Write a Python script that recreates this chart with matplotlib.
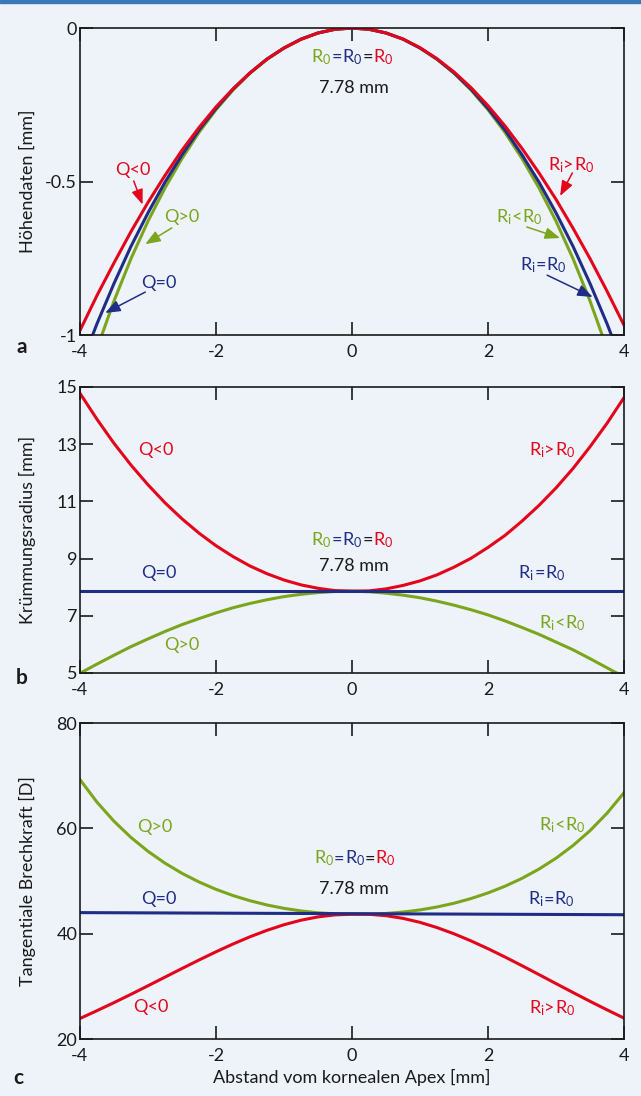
import matplotlib
matplotlib.use("Agg")
import matplotlib.pyplot as plt
from matplotlib.patches import Rectangle
from matplotlib.transforms import offset_copy

plt.rcParams['font.family'] = ['Lato', 'DejaVu Sans']
plt.rcParams['mathtext.fontset'] = 'custom'
plt.rcParams['mathtext.rm'] = 'Lato'
plt.rcParams['mathtext.it'] = 'Lato'
plt.rcParams['axes.unicode_minus'] = False

# colours of the three cornea types
RED = '#e3051b'
BLUE = '#1f2d86'
GREEN = '#7ba51c'
BG = '#eef3fa'
INK = '#1a1a1a'

# distance from the corneal apex [mm]
dist = [-4, -3.75, -3.5, -3.25, -3, -2.75, -2.5, -2.25, -2, -1.75, -1.5, -1.25, -1, -0.75, -0.5, -0.25, 0,
        0.25, 0.5, 0.75, 1, 1.25, 1.5, 1.75, 2, 2.25, 2.5, 2.75, 3, 3.25, 3.5, 3.75, 4]

# a) height data [mm]
hoehe_q0 = [-1.107, -0.963, -0.832, -0.711, -0.602, -0.502, -0.413, -0.332, -0.262, -0.199, -0.146,
            -0.101, -0.065, -0.036, -0.016, -0.004, 0,
            -0.004, -0.016, -0.036, -0.065, -0.101, -0.146, -0.199, -0.262, -0.332, -0.413,
            -0.502, -0.602, -0.711, -0.832, -0.963, -1.107]
hoehe_qneg = [-0.985, -0.871, -0.765, -0.663, -0.568, -0.480, -0.398, -0.324, -0.257, -0.198, -0.146,
              -0.101, -0.065, -0.037, -0.016, -0.004, 0,
              -0.004, -0.016, -0.036, -0.064, -0.100, -0.143, -0.194, -0.253, -0.319, -0.392,
              -0.472, -0.558, -0.652, -0.751, -0.857, -0.968]
hoehe_qpos = [-1.219, -1.044, -0.889, -0.751, -0.629, -0.521, -0.425, -0.340, -0.266, -0.202, -0.147,
              -0.102, -0.065, -0.036, -0.016, -0.004, 0,
              -0.004, -0.016, -0.036, -0.065, -0.102, -0.147, -0.202, -0.266, -0.340, -0.425,
              -0.521, -0.629, -0.751, -0.889, -1.044, -1.219]

# b) radius of curvature [mm]
radius_q0_x = [-4, 4]
radius_q0 = [7.87, 7.87]
radius_qneg = [14.78, 13.87, 13.03, 12.27, 11.58, 10.95, 10.39, 9.89, 9.45, 9.07, 8.74,
               8.47, 8.25, 8.08, 7.96, 7.88, 7.86,
               7.87, 7.94, 8.06, 8.22, 8.43, 8.70, 9.01, 9.39, 9.81, 10.31,
               10.86, 11.47, 12.15, 12.91, 13.73, 14.63]
radius_qpos = [4.99, 5.31, 5.62, 5.92, 6.19, 6.45, 6.69, 6.90, 7.10, 7.28, 7.43,
               7.56, 7.67, 7.75, 7.81, 7.85, 7.86,
               7.84, 7.79, 7.72, 7.63, 7.51, 7.37, 7.21, 7.03, 6.82, 6.59,
               6.35, 6.08, 5.81, 5.50, 5.18, 4.86]

# c) tangential power [D]
power_q0_x = [-4, 4]
power_q0 = [44.0, 43.6]
power_qneg = [23.90, 25.38, 26.91, 28.49, 30.11, 31.75, 33.39, 35.00, 36.56, 38.04, 39.41,
              40.64, 41.70, 42.56, 43.19, 43.57, 43.70,
              43.68, 43.42, 42.91, 42.15, 41.16, 39.98, 38.63, 37.15, 35.57, 33.92,
              32.23, 30.52, 28.83, 27.16, 25.54, 23.97]
power_qpos = [69.26, 64.97, 61.35, 58.27, 55.64, 53.39, 51.46, 49.82, 48.42, 47.24, 46.26,
              45.45, 44.81, 44.32, 43.97, 43.77, 43.70,
              43.71, 43.84, 44.11, 44.51, 45.07, 45.78, 46.67, 47.74, 49.01, 50.51,
              52.27, 54.33, 56.74, 59.56, 62.87, 66.77]

x_ticks = [-4, -2, 0, 2, 4]
x_ticklabels = ['-4', '-2', '0', '2', '4']

FS = 13

fig = plt.figure(figsize=(6.41, 10.96), dpi=100, facecolor=BG)
fig.patches.append(Rectangle((0, 1 - 2.5 / 1096), 1, 2.5 / 1096, transform=fig.transFigure,
                             color='#3b78b8', zorder=10))

ax_a = fig.add_axes([0.1248, 0.6943, 0.8487, 0.2801])
ax_b = fig.add_axes([0.1248, 0.3860, 0.8487, 0.2609])
ax_c = fig.add_axes([0.1248, 0.0520, 0.8487, 0.2883])


def style(ax, yticks, ylabels, ylabel):
    ax.set_facecolor(BG)
    ax.set_xlim(-4, 4)
    ax.set_ylim(yticks[0], yticks[-1])
    ax.set_xticks(x_ticks)
    ax.set_xticklabels(x_ticklabels)
    ax.set_yticks(yticks)
    ax.set_yticklabels(ylabels)
    ax.tick_params(direction='in', length=9.5, width=1.2, top=True, right=True,
                   labelsize=FS, color=INK, labelcolor=INK)
    ax.tick_params(axis='y', pad=2)
    ax.tick_params(axis='x', pad=6.5)
    for s in ax.spines.values():
        s.set_linewidth(1.2)
        s.set_color(INK)
    ax.set_ylabel(ylabel, fontsize=FS, color=INK, va='center')
    ax.yaxis.set_label_coords(-0.0956, 0.5)


def rtext(ax, x, y, parts, size=FS):
    # draw coloured pieces next to each other, centred on x
    renderer = fig.canvas.get_renderer()
    texts, widths = [], []
    for s, c in parts:
        t = ax.text(x, y, s, color=c, fontsize=size, ha='left', va='center')
        texts.append(t)
        widths.append(t.get_window_extent(renderer).width)
    off = -sum(widths) / 2
    for t, w in zip(texts, widths):
        t.set_transform(offset_copy(ax.transData, fig=fig, x=off, y=0, units='dots'))
        off += w


def arrow(ax, tail, tip, c):
    ax.annotate('', xy=tip, xytext=tail,
                arrowprops=dict(arrowstyle='-|>,head_length=0.7,head_width=0.27', color=c, lw=1.1,
                                mutation_scale=13, shrinkA=0, shrinkB=0))


R0 = 'R$_\\mathrm{0}$'
Ri = 'R$_\\mathrm{i}$'
center_parts = [(R0, GREEN), ('=', BLUE), (R0, BLUE), ('=', INK), (R0, RED)]

# --- panel a
ax = ax_a
ax.plot(dist, hoehe_qpos, color=GREEN, lw=2.2)
ax.plot(dist, hoehe_q0, color=BLUE, lw=2.2)
ax.plot(dist, hoehe_qneg, color=RED, lw=2.2)
style(ax, [-1, -0.5, 0], ['-1', '-0.5', '0'], 'Höhendaten [mm]')
rtext(ax, 0, -0.094, center_parts)
ax.text(0.03, -0.195, '7.78 mm', fontsize=FS, ha='center', va='center', color=INK)
ax.text(-3.22, -0.463, 'Q<0', color=RED, fontsize=FS, ha='center', va='center')
arrow(ax, (-3.21, -0.498), (-3.08, -0.575), RED)
ax.text(-2.51, -0.616, 'Q>0', color=GREEN, fontsize=FS, ha='center', va='center')
arrow(ax, (-2.65, -0.651), (-3.04, -0.704), GREEN)
ax.text(-2.84, -0.831, 'Q=0', color=BLUE, fontsize=FS, ha='center', va='center')
arrow(ax, (-3.04, -0.860), (-3.63, -0.928), BLUE)
rtext(ax, 3.22, -0.446, [(Ri, RED), ('>', RED), (R0, RED)])
arrow(ax, (3.24, -0.472), (3.06, -0.547), RED)
rtext(ax, 2.46, -0.616, [(Ri, GREEN), ('<', GREEN), (R0, GREEN)])
arrow(ax, (2.57, -0.648), (3.06, -0.684), GREEN)
rtext(ax, 2.81, -0.772, [(Ri, BLUE), ('=', BLUE), (R0, BLUE)])
arrow(ax, (2.87, -0.805), (3.54, -0.876), BLUE)

# --- panel b
ax = ax_b
ax.plot(dist, radius_qpos, color=GREEN, lw=2.2)
ax.plot(dist, radius_qneg, color=RED, lw=2.2)
ax.plot(radius_q0_x, radius_q0, color=BLUE, lw=2.2)
style(ax, [5, 7, 9, 11, 13, 15], ['5', '7', '9', '11', '13', '15'], 'Krümmungsradius [mm]')
rtext(ax, 0, 9.65, center_parts)
ax.text(0.03, 8.74, '7.78 mm', fontsize=FS, ha='center', va='center', color=INK)
ax.text(-2.88, 12.80, 'Q<0', color=RED, fontsize=FS, ha='center', va='center')
ax.text(-2.84, 8.50, 'Q=0', color=BLUE, fontsize=FS, ha='center', va='center')
ax.text(-2.50, 5.98, 'Q>0', color=GREEN, fontsize=FS, ha='center', va='center')
rtext(ax, 2.94, 12.80, [(Ri, RED), ('>', RED), (R0, RED)])
rtext(ax, 2.79, 8.50, [(Ri, BLUE), ('=', BLUE), (R0, BLUE)])
rtext(ax, 3.09, 6.75, [(Ri, GREEN), ('<', GREEN), (R0, GREEN)])

# --- panel c
ax = ax_c
ax.plot(dist, power_qpos, color=GREEN, lw=2.2)
ax.plot(dist, power_qneg, color=RED, lw=2.2)
ax.plot(power_q0_x, power_q0, color=BLUE, lw=2.2)
style(ax, [20, 40, 60, 80], ['20', '40', '60', '80'], 'Tangentiale Brechkraft [D]')
rtext(ax, 0.04, 54.3, center_parts)
ax.text(0.03, 48.4, '7.78 mm', fontsize=FS, ha='center', va='center', color=INK)
ax.text(-2.90, 60.2, 'Q>0', color=GREEN, fontsize=FS, ha='center', va='center')
ax.text(-2.84, 46.5, 'Q=0', color=BLUE, fontsize=FS, ha='center', va='center')
ax.text(-2.96, 26.0, 'Q<0', color=RED, fontsize=FS, ha='center', va='center')
rtext(ax, 3.09, 60.6, [(Ri, GREEN), ('<', GREEN), (R0, GREEN)])
rtext(ax, 2.93, 46.5, [(Ri, BLUE), ('=', BLUE), (R0, BLUE)])
rtext(ax, 2.94, 25.8, [(Ri, RED), ('>', RED), (R0, RED)])
ax.set_xlabel('Abstand vom kornealen Apex [mm]', fontsize=FS, color=INK, va='center')
ax.xaxis.set_label_coords(0.5, -0.123)

# panel letters
fig.text(0.0343, 0.6834, 'a', fontsize=15, fontweight='bold', ha='center', va='center', color=INK)
fig.text(0.0343, 0.3814, 'b', fontsize=15, fontweight='bold', ha='center', va='center', color=INK)
fig.text(0.028, 0.0164, 'c', fontsize=15, fontweight='bold', ha='center', va='center', color=INK)

fig.savefig('out.png', dpi=100, facecolor=BG)
